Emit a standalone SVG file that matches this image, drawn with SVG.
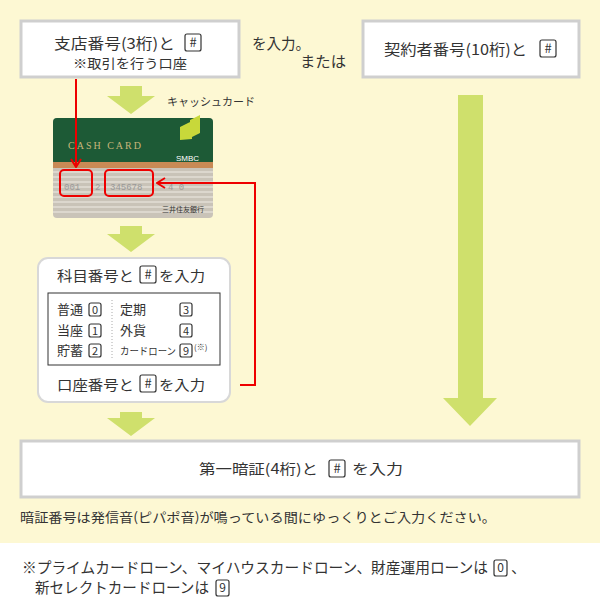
<svg xmlns="http://www.w3.org/2000/svg" width="600" height="608" viewBox="0 0 600 608">
<style>
text{font-family:"Noto Sans CJK JP","Noto Sans",sans-serif;fill:#333}
.box{fill:#fff;stroke:#cfcfcf;stroke-width:3}
.arr{fill:#cfe06c}
.key{fill:#fff;stroke:#333;stroke-width:1.2}
.red{stroke:#e00;stroke-width:2;fill:none}
.t15{font-size:15px}.t14{font-size:14px}.t13{font-size:13px}.t12{font-size:12px}.t11{font-size:11px}
</style>
<defs>
<marker id="ah" markerWidth="10" markerHeight="12" refX="9" refY="6" orient="auto" markerUnits="userSpaceOnUse"><path d="M1,1 L9,6 L1,11" fill="none" stroke="#e00" stroke-width="2"/></marker>
</defs>
<rect width="600" height="543" fill="#fdf8d3"/>
<rect y="543" width="600" height="65" fill="#fff"/>

<g id="box1"><rect class="box" x="21" y="21" width="218" height="56"/>
<text class="t15" x="54" y="49" textLength="121" lengthAdjust="spacingAndGlyphs">支店番号(3桁)と</text>
<rect class="key" x="185" y="34" width="16" height="17" rx="2"/><text class="t13" x="193" y="47" text-anchor="middle">#</text>
<text class="t13" x="73" y="68" textLength="114" lengthAdjust="spacingAndGlyphs">※取引を行う口座</text></g>
<text class="t15" x="252" y="49" textLength="58" lengthAdjust="spacingAndGlyphs">を入力。</text>
<text class="t15" x="300" y="67" textLength="46" lengthAdjust="spacingAndGlyphs">または</text>
<g id="box2"><rect class="box" x="363" y="21" width="216" height="56"/>
<text class="t15" x="384" y="55" textLength="143" lengthAdjust="spacingAndGlyphs">契約者番号(10桁)と</text>
<rect class="key" x="540" y="40" width="16" height="17" rx="2"/><text class="t13" x="548" y="53" text-anchor="middle">#</text></g>

<g id="arrows">
<path class="arr" d="M120,86 h22 v10 h13 l-24,18 l-24,-18 h13z"/>
<path class="arr" d="M120,226 h22 v8 h13 l-24,18 l-24,-18 h13z"/>
<path class="arr" d="M120,412 h22 v6 h13 l-24,18 l-24,-18 h13z"/>
<path class="arr" d="M458,95 h25 v303 h14 l-27,28 l-27,-28 h15z"/>
</g>
<text class="t11" x="167" y="106">キャッシュカード</text>

<g id="card">
<rect x="53" y="118" width="160" height="100" rx="4" fill="#c9c3b8"/>
<rect x="53" y="118" width="160" height="47" rx="4" fill="#1d5a36"/>
<rect x="53" y="162" width="160" height="6" fill="#c98a55"/>
<g stroke="#e2ded6" stroke-width="1.5">
<line x1="53" y1="172" x2="213" y2="172"/><line x1="53" y1="177" x2="213" y2="177"/><line x1="53" y1="182" x2="213" y2="182"/><line x1="53" y1="187" x2="213" y2="187"/><line x1="53" y1="192" x2="213" y2="192"/><line x1="53" y1="197" x2="213" y2="197"/><line x1="53" y1="202" x2="213" y2="202"/><line x1="53" y1="207" x2="213" y2="207"/><line x1="53" y1="212" x2="213" y2="212"/></g>
<text x="68" y="149" font-size="10" letter-spacing="2" style="fill:#c8b67a;font-family:'Liberation Serif',serif">CASH CARD</text>
<path d="M180,140 v-13 l12,-6 v18z M190,138 v-18 l10,-5 v18z" fill="#c8d83a"/>
<text x="176" y="161" font-size="8" style="fill:#fff;font-family:'Liberation Sans',sans-serif">SMBC</text>
<text x="64" y="190" font-size="9" style="fill:#999;font-family:'Liberation Mono',monospace">001</text>
<text x="95" y="190" font-size="9" style="fill:#999;font-family:'Liberation Mono',monospace">2</text>
<text x="110" y="190" font-size="9" style="fill:#999;font-family:'Liberation Mono',monospace">345678</text>
<text x="168" y="190" font-size="9" style="fill:#999;font-family:'Liberation Mono',monospace">4  0</text>
<text x="162" y="212" font-size="7" style="fill:#333">三井住友銀行</text>
</g>

<g id="box3"><rect x="38" y="258" width="192" height="144" rx="10" fill="#fff" stroke="#d8d8d8" stroke-width="2"/>
<text class="t14" x="57" y="281" textLength="77" lengthAdjust="spacingAndGlyphs">科目番号と</text>
<rect class="key" x="140" y="266" width="16" height="17" rx="2"/><text class="t13" x="148" y="279" text-anchor="middle">#</text>
<text class="t14" x="159" y="281" textLength="46" lengthAdjust="spacingAndGlyphs">を入力</text>
<rect x="48" y="293" width="172" height="72" fill="#fff" stroke="#333"/>
<line x1="112" y1="300" x2="112" y2="360" stroke="#aaa" stroke-dasharray="1,2"/>
<text x="57" y="314" class="t13">普通</text><text x="57" y="335" class="t13">当座</text><text x="57" y="355" class="t13">貯蓄</text>
<text x="120" y="314" class="t13">定期</text><text x="120" y="335" class="t13">外貨</text><text x="120" y="355" font-size="10" textLength="56" lengthAdjust="spacingAndGlyphs">カードローン</text>
<rect class="key" x="89" y="303" width="12" height="13" rx="2"/><text class="t11" x="95" y="314" text-anchor="middle">0</text>
<rect class="key" x="89" y="324" width="12" height="13" rx="2"/><text class="t11" x="95" y="335" text-anchor="middle">1</text>
<rect class="key" x="89" y="344" width="12" height="13" rx="2"/><text class="t11" x="95" y="355" text-anchor="middle">2</text>
<rect class="key" x="180" y="303" width="12" height="13" rx="2"/><text class="t11" x="186" y="314" text-anchor="middle">3</text>
<rect class="key" x="180" y="324" width="12" height="13" rx="2"/><text class="t11" x="186" y="335" text-anchor="middle">4</text>
<rect class="key" x="180" y="344" width="12" height="13" rx="2"/><text class="t11" x="186" y="355" text-anchor="middle">9</text>
<text x="194" y="350" font-size="8">(※)</text>
<text class="t14" x="57" y="390" textLength="77" lengthAdjust="spacingAndGlyphs">口座番号と</text>
<rect class="key" x="140" y="375" width="16" height="17" rx="2"/><text class="t13" x="148" y="388" text-anchor="middle">#</text>
<text class="t14" x="159" y="390" textLength="46" lengthAdjust="spacingAndGlyphs">を入力</text></g>

<g id="connectors">
<rect class="red" x="60" y="170" width="32" height="26" rx="4"/>
<rect class="red" x="105" y="170" width="48" height="26" rx="4"/>
<path class="red" d="M76,79 V167" marker-end="url(#ah)"/>
<path class="red" d="M240,385 H255 V183 H157" marker-end="url(#ah)"/>
</g>

<g id="box4"><rect class="box" x="21" y="441" width="558" height="56"/>
<text class="t14" x="199" y="474" textLength="119" lengthAdjust="spacingAndGlyphs">第一暗証(4桁)と</text>
<rect class="key" x="329" y="460" width="16" height="17" rx="2"/><text class="t13" x="337" y="473" text-anchor="middle">#</text>
<text class="t14" x="352" y="474" textLength="51" lengthAdjust="spacingAndGlyphs">を入力</text></g>
<text class="t13" x="20" y="522" textLength="476" lengthAdjust="spacingAndGlyphs">暗証番号は発信音(ピパポ音)が鳴っている間にゆっくりとご入力ください。</text>
<text class="t15" x="22" y="573" textLength="466" lengthAdjust="spacingAndGlyphs">※プライムカードローン、マイハウスカードローン、財産運用ローンは</text>
<rect class="key" x="494" y="560" width="13" height="16" rx="2"/><text class="t12" x="500.5" y="572" text-anchor="middle">0</text>
<text class="t15" x="511" y="573">、</text>
<text class="t15" x="35" y="593" textLength="174" lengthAdjust="spacingAndGlyphs">新セレクトカードローンは</text>
<rect class="key" x="216" y="580" width="13" height="16" rx="2"/><text class="t12" x="222.5" y="592" text-anchor="middle">9</text>
</svg>
